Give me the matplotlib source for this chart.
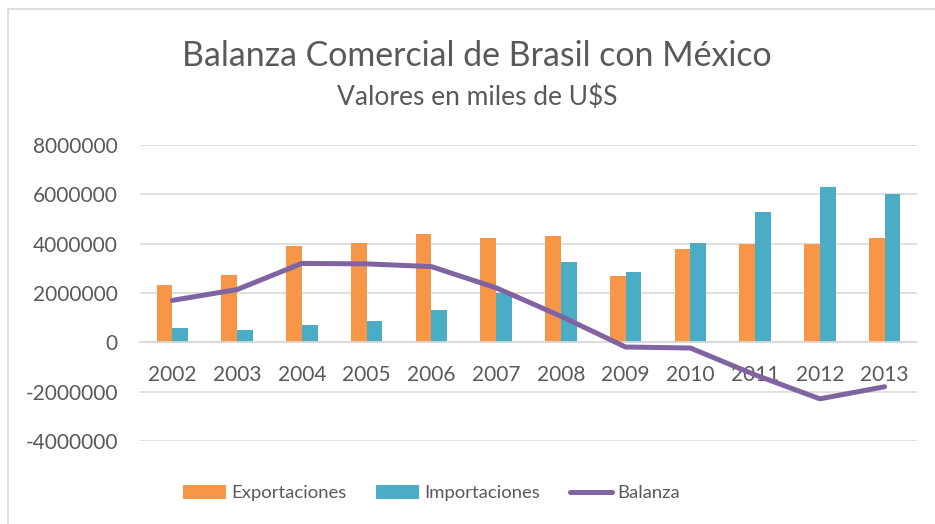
import matplotlib.pyplot as plt
import matplotlib.patches as patches
import numpy as np

# datos (miles de U$S)
anios = ['2002', '2003', '2004', '2005', '2006', '2007',
         '2008', '2009', '2010', '2011', '2012', '2013']
exportaciones = [2310000, 2710000, 3910000, 4030000, 4410000, 4220000,
                 4300000, 2680000, 3780000, 3970000, 3990000, 4220000]
importaciones = [580000, 520000, 710000, 860000, 1310000, 2010000,
                 3240000, 2860000, 4010000, 5290000, 6290000, 6010000]
balanza = [1700000, 2140000, 3200000, 3180000, 3070000, 2210000,
           1060000, -190000, -230000, -1320000, -2290000, -1800000]

plt.rcParams['font.family'] = ['Lato', 'DejaVu Sans']
gris = '#595959'

fig = plt.figure(figsize=(9.35, 5.24), dpi=100)
ax = fig.add_axes([140 / 935, 1 - 441 / 524, 777 / 935, 296 / 524])

x = np.arange(len(anios))
ancho = 0.245
b1 = ax.bar(x - ancho / 2, exportaciones, ancho, color='#F79646', label='Exportaciones', zorder=2)
b2 = ax.bar(x + ancho / 2, importaciones, ancho, color='#4BACC6', label='Importaciones', zorder=2)
l1, = ax.plot(x, balanza, color='#8064A2', linewidth=3.6, label='Balanza', zorder=4,
              solid_capstyle='round')

ax.set_xlim(-0.5, len(anios) - 0.5)
ax.set_ylim(-4000000, 8000000)
ax.set_yticks(np.arange(-4000000, 8000001, 2000000))
ax.set_yticklabels([str(v) for v in range(-4000000, 8000001, 2000000)])
ax.set_xticks(x)
ax.set_xticklabels(anios)

# cuadrícula
ax.grid(axis='y', color='#D9D9D9', linewidth=1.2, zorder=0)
ax.set_axisbelow(True)
for s in ['top', 'right', 'left']:
    ax.spines[s].set_visible(False)
ax.spines['bottom'].set_position(('data', 0))
ax.spines['bottom'].set_color('#D9D9D9')
ax.spines['bottom'].set_linewidth(1.2)
ax.tick_params(axis='both', length=0, colors=gris, labelsize=15)
ax.tick_params(axis='y', pad=16)
ax.tick_params(axis='x', pad=16)

# títulos
fig.text(0.51, 1 - 56 / 524, 'Balanza Comercial de Brasil con México',
         ha='center', va='center', fontsize=24.4, color=gris)
fig.text(0.51, 1 - 97 / 524, 'Valores en miles de U$S',
         ha='center', va='center', fontsize=19, color=gris)

fig.legend([b1, b2, l1], ['Exportaciones', 'Importaciones', 'Balanza'],
           loc='center', bbox_to_anchor=(0.462, 1 - 493 / 524), ncol=3, frameon=False,
           fontsize=13.3, labelcolor=gris, handlelength=2.3, handleheight=0.8,
           handletextpad=0.3, columnspacing=1.6)

# borde
fig.patches.append(patches.Rectangle((8 / 935, -0.1), 1.2, 1 - 9 / 524 + 0.1,
                                     transform=fig.transFigure, fill=False,
                                     edgecolor='#D9D9D9', linewidth=1.2))

fig.savefig('out.png', dpi=100)
